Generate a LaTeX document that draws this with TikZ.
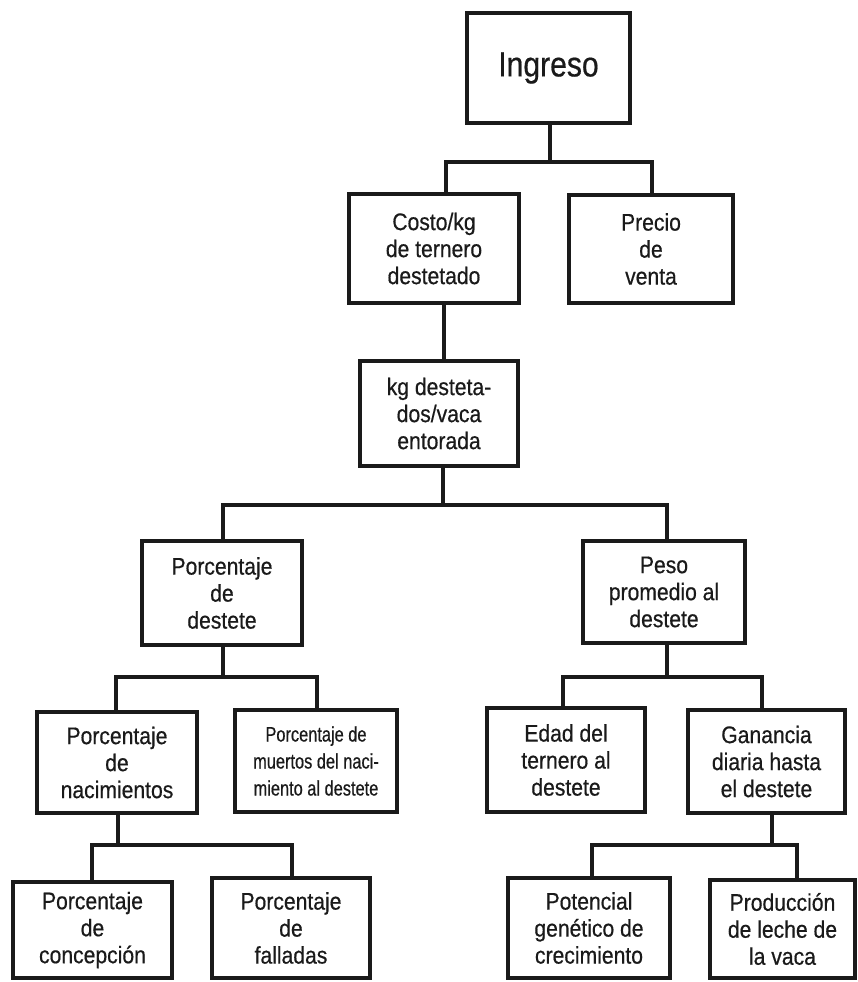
\documentclass[tikz,border=0pt]{standalone}
\usepackage{fontspec}
\setmainfont{Liberation Sans}[FakeBold=0.5]
\newfontfamily\heavyfont{Liberation Sans}[FakeBold=0.5,FakeStretch=0.88]
\newfontfamily\narrowfont{Liberation Sans}[FakeBold=0.5,FakeStretch=0.78]
\newfontfamily\titlefont{Liberation Sans}[FakeBold=0.5,FakeStretch=0.86]
\definecolor{ink}{HTML}{1A1A1A}
\tikzset{
  box/.style={draw=ink, line width=3.4pt, inner sep=0pt, align=center, text=ink,
    font=\heavyfont\fontsize{24}{27}\selectfont},
  conn/.style={draw=ink, line width=3.4pt, line join=miter},
}
\newcommand{\bx}[7][]{%
  \node[box, minimum width={(#4-#2)*1pt}, minimum height={(#5-#3)*1pt}, #1]
    (#7) at ({(#2+#4)/2},{(#3+#5)/2}) {#6};}
\begin{document}
\begin{tikzpicture}[x=1pt,y=-1pt]
\useasboundingbox[fill=white] (0,0) rectangle (858,982);
% boxes
\bx[font=\titlefont\fontsize{35}{38}\selectfont]{467}{13}{630}{123}{Ingreso}{ing}
\bx{349}{194}{519}{303}{Costo/kg\\de ternero\\destetado}{cost}
\bx{569}{195}{733}{303}{Precio\\de\\venta}{prec}
\bx{360}{361}{518}{466}{kg desteta-\\dos/vaca\\entorada}{kg}
\bx{142}{541}{302}{645}{Porcentaje\\de\\destete}{pdes}
\bx{583}{541}{745}{643}{Peso\\promedio al\\destete}{peso}
\bx{37}{712}{197}{813}{Porcentaje\\de\\nacimientos}{pnac}
\bx[font=\narrowfont\fontsize{21}{27}\selectfont]{235}{710}{397}{812}{Porcentaje de\\muertos del naci-\\miento al destete}{pmue}
\bx{487}{708}{645}{812}{Edad del\\ternero al\\destete}{edad}
\bx{688}{710}{845}{813}{Ganancia\\diaria hasta\\el destete}{gan}
\bx{13}{882}{172}{978}{Porcentaje\\de\\concepción}{pcon}
\bx{212}{878}{370}{978}{Porcentaje\\de\\falladas}{pfal}
\bx{508}{878}{670}{978}{Potencial\\genético de\\crecimiento}{pot}
\bx{710}{880}{855}{978}{Producción\\de leche de\\la vaca}{prod}
% junction coordinates
\coordinate (a0) at (550,162);
\coordinate (a1) at (446,162);
\coordinate (a2) at (652,162);
\coordinate (b0) at (443,505);
\coordinate (b1) at (223,505);
\coordinate (b2) at (667,505);
\coordinate (c0) at (223,677);
\coordinate (c1) at (116,677);
\coordinate (c2) at (317,677);
\coordinate (d0) at (667,677);
\coordinate (d1) at (563,677);
\coordinate (d2) at (762,677);
\coordinate (e0) at (118,845);
\coordinate (e1) at (92,845);
\coordinate (e2) at (292,845);
\coordinate (f0) at (772,845);
\coordinate (f1) at (592,845);
\coordinate (f2) at (797,845);
% connectors
\draw[conn] (ing.south -| a0) -- (a0);
\draw[conn] (cost.north -| a1) -- (a1) -- (a2) -- (prec.north -| a2);
\draw[conn] (cost.south -| 444,0) -- (kg.north -| 444,0);
\draw[conn] (kg.south -| b0) -- (b0);
\draw[conn] (pdes.north -| b1) -- (b1) -- (b2) -- (peso.north -| b2);
\draw[conn] (pdes.south -| c0) -- (c0);
\draw[conn] (pnac.north -| c1) -- (c1) -- (c2) -- (pmue.north -| c2);
\draw[conn] (peso.south -| d0) -- (d0);
\draw[conn] (edad.north -| d1) -- (d1) -- (d2) -- (gan.north -| d2);
\draw[conn] (pnac.south -| e0) -- (e0);
\draw[conn] (pcon.north -| e1) -- (e1) -- (e2) -- (pfal.north -| e2);
\draw[conn] (gan.south -| f0) -- (f0);
\draw[conn] (pot.north -| f1) -- (f1) -- (f2) -- (prod.north -| f2);
\end{tikzpicture}
\end{document}
